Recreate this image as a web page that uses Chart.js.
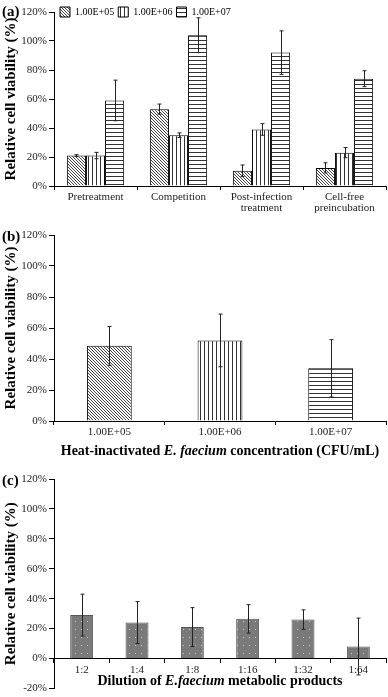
<!DOCTYPE html>
<html>
<head>
<meta charset="utf-8">
<script src="https://cdn.jsdelivr.net/npm/chart.js@4"></script>
<style>
  body { margin: 0; background: #fff; }
  #wrap { position: relative; width: 388px; height: 697px; font-family: "Liberation Serif", serif; }
  .panel { position: absolute; left: 0; width: 388px; }
  .tag { position: absolute; left: 2px; font-weight: bold; font-size: 15px; line-height: 1; }
  .xtitle { position: absolute; left: 54px; width: 332px; text-align: center; font-weight: bold; font-size: 14px; line-height: 1; white-space: nowrap; }
</style>
</head>
<body>
<div id="wrap">
  <div class="panel" style="top:0;height:225px"><canvas id="chartA"></canvas></div>
  <div class="panel" style="top:225px;height:240px"><canvas id="chartB"></canvas></div>
  <div class="panel" style="top:465px;height:232px"><canvas id="chartC"></canvas></div>
  <div class="tag" style="top:4px">(a)</div>
  <div class="tag" style="top:229px">(b)</div>
  <div class="tag" style="top:473px">(c)</div>
  <div class="xtitle" style="top:444px">Heat-inactivated <i>E. faecium</i> concentration (CFU/mL)</div>
  <div class="xtitle" style="top:674px">Dilution of <i>E.faecium</i> metabolic products</div>
</div>
<script>
// ---- data ----
const treatments = [['Pretreatment'], ['Competition'], ['Post-infection', 'treatment'], ['Cell-free', 'preincubation']];
const doseLabels = ['1.00E+05', '1.00E+06', '1.00E+07'];
const a1e5 = [21, 53, 10.5, 12.5];
const a1e5Err = [0.6, 3.5, 4, 3.5];
const a1e6 = [21, 35, 39, 23];
const a1e6Err = [2.2, 1.6, 4, 3.5];
const a1e7 = [59, 104, 92, 74];
const a1e7Err = [14, 12, 15, 5.5];

const heatValues = [48.5, 52, 34];
const heatErr = [12.5, 17, 18.5];

const dilutions = ['1:2', '1:4', '1:8', '1:16', '1:32', '1:64'];
const dilValues = [29, 24, 21, 26.5, 26, 8];
const dilErr = [14, 14, 13, 9.5, 6.5, 19];

const pctTicks = v => v + '%';
const serif = 'Liberation Serif';

// ---- fill patterns ----
function makePattern(w, h, drawFn) {
  const c = document.createElement('canvas');
  c.width = w; c.height = h;
  const g = c.getContext('2d');
  drawFn(g, w, h);
  return g.createPattern(c, 'repeat');
}
const diagPattern = makePattern(3, 3, (g) => {
  g.fillStyle = '#fff'; g.fillRect(0, 0, 3, 3);
  g.fillStyle = '#444';
  for (let i = 0; i < 3; i++) g.fillRect(i, i, 1, 1);
});
const vertPattern = makePattern(4, 4, (g) => {
  g.fillStyle = '#fff'; g.fillRect(0, 0, 4, 4);
  g.fillStyle = '#333'; g.fillRect(0, 0, 1, 4);
});
const horizPattern = makePattern(4, 4, (g) => {
  g.fillStyle = '#fff'; g.fillRect(0, 0, 4, 4);
  g.fillStyle = '#333'; g.fillRect(0, 0, 4, 1);
});
const dotPattern = makePattern(6, 8, (g) => {
  g.fillStyle = '#7a7a7a'; g.fillRect(0, 0, 6, 8);
  g.fillStyle = '#c8c8c8'; g.fillRect(3, 4, 1, 1);
});

// ---- error bars drawn from the y scale ----
const errorBars = {
  id: 'errorBars',
  afterDatasetsDraw(chart) {
    const ctx = chart.ctx;
    const y = chart.scales.y;
    ctx.save();
    ctx.strokeStyle = '#222';
    ctx.lineWidth = 1;
    chart.data.datasets.forEach((ds, di) => {
      const meta = chart.getDatasetMeta(di);
      meta.data.forEach((bar, i) => {
        const v = ds.data[i], e = ds.errors[i];
        const x = Math.round(bar.x) + 0.5;
        const top = y.getPixelForValue(v + e);
        const bot = y.getPixelForValue(v - e);
        ctx.beginPath();
        ctx.moveTo(x, top); ctx.lineTo(x, bot);
        ctx.moveTo(x - 2, top); ctx.lineTo(x + 2, top);
        ctx.moveTo(x - 2, bot); ctx.lineTo(x + 2, bot);
        ctx.stroke();
      });
    });
    ctx.restore();
  }
};

// move the legend so it sits level with the 120% tick, just right of the axis
const legendShift = {
  id: 'legendShift',
  afterLayout(chart) {
    const lg = chart.legend;
    if (lg) {
      lg.top = 3;
      lg.bottom = 22;
      lg.height = 19;
      lg.left += 2;
    }
  }
};

function yAxis(min, titleText) {
  return {
    min: min, max: 120,
    afterFit: s => { s.width = 54; },
    border: { color: '#000', width: 1 },
    grid: { drawOnChartArea: false, tickLength: 5, color: '#000' },
    ticks: { stepSize: 20, callback: pctTicks, padding: 2, color: '#222', font: { family: serif, size: 11 } },
    title: { display: true, text: titleText, color: '#000', padding: { top: 2, bottom: 0 }, font: { family: serif, size: 15, weight: 'bold', lineHeight: 1.2 } }
  };
}

function xAxis(height, extra) {
  return Object.assign({
    afterFit: s => { s.height = height; },
    border: { color: '#000', width: 1 },
    grid: { drawOnChartArea: false, tickLength: 4, color: '#000', offset: true },
    ticks: { padding: 2, color: '#222', font: { family: serif, size: 11, lineHeight: 1.0 } }
  }, extra || {});
}

Chart.defaults.animation = false;

// Panel (a)
new Chart(document.getElementById('chartA').getContext('2d'), {
  type: 'bar',
  data: {
    labels: treatments,
    datasets: [
      { label: doseLabels[0], data: a1e5, errors: a1e5Err, backgroundColor: diagPattern, borderColor: '#000', borderWidth: 1 },
      { label: doseLabels[1], data: a1e6, errors: a1e6Err, backgroundColor: vertPattern, borderColor: '#000', borderWidth: 1 },
      { label: doseLabels[2], data: a1e7, errors: a1e7Err, backgroundColor: horizPattern, borderColor: '#000', borderWidth: 1 }
    ]
  },
  options: {
    responsive: true,
    maintainAspectRatio: false,
    layout: { padding: { top: -12, right: 2, left: 0, bottom: 0 } },
    datasets: { bar: { categoryPercentage: 0.69, barPercentage: 1.0 } },
    plugins: {
      legend: {
        position: 'top',
        align: 'start',
        fullSize: false,
        labels: { boxWidth: 10, boxHeight: 10, padding: 4, color: '#000', font: { family: serif, size: 10, lineHeight: 1.2 } }
      },
      tooltip: { enabled: false }
    },
    scales: {
      x: xAxis(39),
      y: yAxis(0, 'Relative cell viability (%)')
    }
  },
  plugins: [errorBars, legendShift]
});

// Panel (b)
new Chart(document.getElementById('chartB').getContext('2d'), {
  type: 'bar',
  data: {
    labels: doseLabels,
    datasets: [
      { label: 'viability', data: heatValues, errors: heatErr, backgroundColor: [diagPattern, vertPattern, horizPattern], borderColor: '#000', borderWidth: 1 }
    ]
  },
  options: {
    responsive: true,
    maintainAspectRatio: false,
    layout: { padding: { top: 10, right: 2, left: 0, bottom: 0 } },
    datasets: { bar: { categoryPercentage: 0.405, barPercentage: 1.0 } },
    plugins: { legend: { display: false }, tooltip: { enabled: false } },
    scales: {
      x: xAxis(44),
      y: yAxis(0, 'Relative cell viability (%)')
    }
  },
  plugins: [errorBars]
});

// Panel (c)
new Chart(document.getElementById('chartC').getContext('2d'), {
  type: 'bar',
  data: {
    labels: dilutions,
    datasets: [
      { label: 'viability', data: dilValues, errors: dilErr, backgroundColor: dotPattern, borderColor: '#555', borderWidth: 1 }
    ]
  },
  options: {
    responsive: true,
    maintainAspectRatio: false,
    layout: { padding: { top: 14, right: 2, left: 0, bottom: 0 } },
    datasets: { bar: { categoryPercentage: 0.415, barPercentage: 1.0 } },
    plugins: { legend: { display: false }, tooltip: { enabled: false } },
    scales: {
      x: xAxis(13, { position: { y: 0 } }),
      y: yAxis(-20, 'Relative cell viability (%)')
    }
  },
  plugins: [errorBars]
});
</script>
</body>
</html>
